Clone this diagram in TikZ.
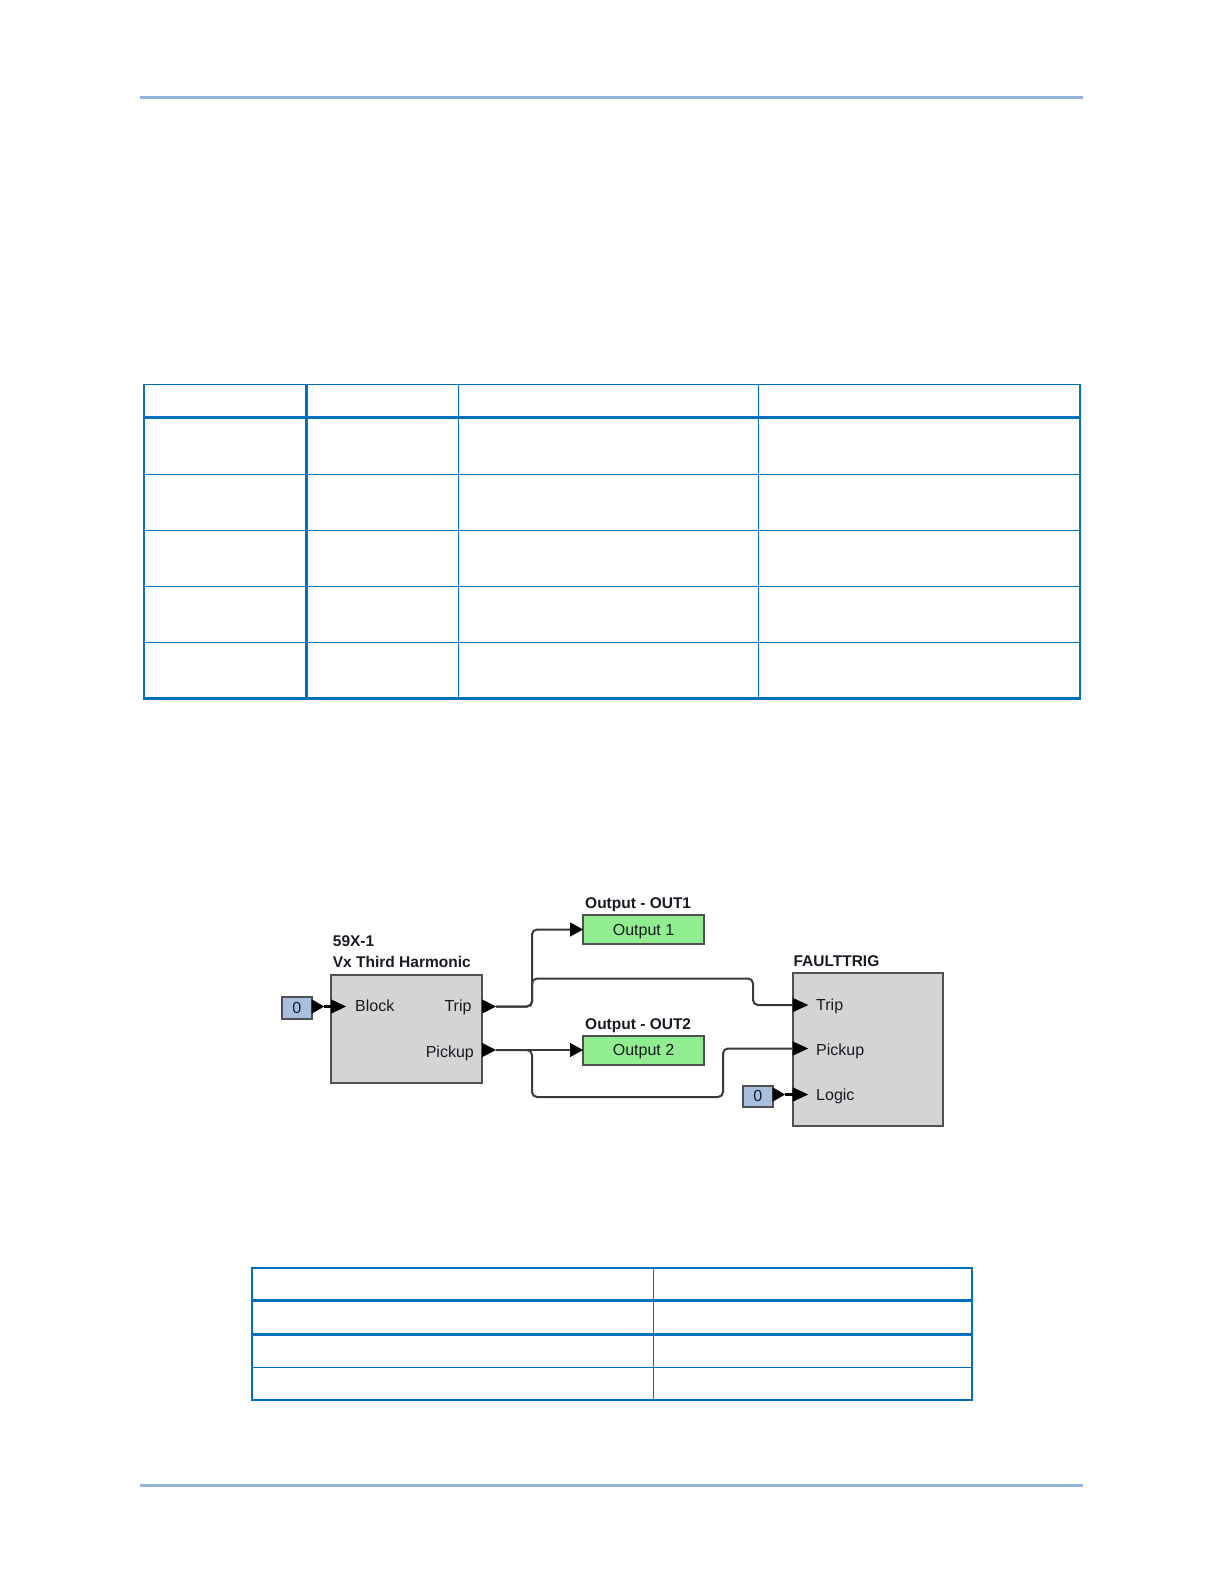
\documentclass[tikz,border=0pt]{standalone}
\usepackage{fontspec}
\setmainfont{Liberation Sans}
\usetikzlibrary{calc}
\definecolor{rulecol}{HTML}{95B3D7}
\definecolor{tabblue}{HTML}{0070C0}
\definecolor{wirecol}{HTML}{3A3A3A}
\definecolor{boxedge}{HTML}{505050}
\definecolor{blkfill}{HTML}{D4D4D4}
\definecolor{outfill}{HTML}{90EE90}
\definecolor{constfill}{HTML}{A8C0DF}
\definecolor{txt}{HTML}{1A1A24}
\newcommand\porttri[2]{\fill[port] (#1) -- ++(0,-7.2) -- ++(#2,7.2) -- ++(-#2,7.2) -- cycle;}
\begin{document}
\begin{tikzpicture}[x=1pt,y=-1pt,
  hdrrule/.style={draw=rulecol,line width=3pt},
  tabthin/.style={draw=tabblue,line width=1.5pt},
  tabmid/.style={draw=tabblue,line width=2pt},
  tabthick/.style={draw=tabblue,line width=3pt},
  blockbox/.style={draw=boxedge,fill=blkfill,line width=2pt,inner sep=0pt,outer sep=0pt,anchor=north west},
  outbox/.style={draw=boxedge,fill=outfill,line width=2pt,inner sep=0pt,outer sep=0pt,anchor=north west,minimum width=121pt,minimum height=29pt,font=\fontsize{16}{19}\selectfont,text=txt,text depth=0pt},
  constbox/.style={draw=boxedge,fill=constfill,line width=1.8pt,inner sep=0pt,outer sep=0pt,anchor=north west,minimum width=30pt,minimum height=21pt,font=\fontsize{16}{19}\selectfont,text=txt,text depth=0pt},
  portlbl/.style={inner sep=0pt,font=\fontsize{16}{19}\selectfont,text=txt},
  titlelbl/.style={inner sep=0pt,font=\fontsize{15.5}{18}\selectfont\bfseries,text=txt,anchor=base west},
  wire/.style={draw=wirecol,line width=2pt,rounded corners=5pt},
  stub/.style={draw=black,line width=3pt},
  port/.style={fill=black}
]
\fill[white] (0,0) rectangle (1224,1584);
\useasboundingbox (0,0) rectangle (1224,1584);

% header / footer rules
\draw[hdrrule] (140,98) -- (1083,98);
\draw[hdrrule] (140,1485) -- (1083,1485);

% table 1
\draw[tabthin] (143.4,384.5) -- (1080.5,384.5);
\draw[tabthick] (143.4,417.5) -- (1080.5,417.5);
\foreach \yy in {474.3,530.3,586.3,642.3} \draw[tabthin] (143.4,\yy) -- (1080.5,\yy);
\draw[tabthick] (143.4,698.5) -- (1080.5,698.5);
\draw[tabmid] (144.4,383.75) -- (144.4,700);
\draw[tabthick] (306.7,383.75) -- (306.7,700);
\draw[tabthin] (458.3,383.75) -- (458.3,700);
\draw[tabthin] (758.3,383.75) -- (758.3,700);
\draw[tabmid] (1079.5,383.75) -- (1079.5,700);

% table 2
\draw[tabmid] (250.5,1267.7) -- (972.5,1267.7);
\draw[tabthick] (250.5,1300.7) -- (972.5,1300.7);
\draw[tabthick] (250.5,1334) -- (972.5,1334);
\draw[tabthin] (250.5,1367.3) -- (972.5,1367.3);
\draw[tabmid] (250.5,1400.3) -- (972.5,1400.3);
\draw[tabmid] (251.5,1266.7) -- (251.5,1401.3);
\draw[tabthin] (653.4,1266.7) -- (653.4,1401.3);
\draw[tabmid] (971.5,1266.7) -- (971.5,1401.3);

% ---------- diagram ----------
% block 59X-1
\node[blockbox,minimum width=151pt,minimum height=108pt] (b59) at (331,975.3) {};
\node[titlelbl] (lab59a) at (332.7,946.7) {59X-1};
\node[titlelbl] (lab59b) at (332.7,967.3) {Vx Third Harmonic};
\coordinate (b59in) at (331,1006.5);
\coordinate (b59trip) at (482,1006.5);
\coordinate (b59pick) at (482,1050);
\node[portlbl,anchor=base west] (tblock) at (355,1011.7) {Block};
\node[portlbl,anchor=base east] (ttrip) at (471.7,1011.7) {Trip};
\node[portlbl,anchor=base east] (tpick) at (474,1057) {Pickup};
\porttri{b59in}{15}
\porttri{b59trip}{14}
\porttri{b59pick}{14}
\coordinate (b59tripout) at (496,1006.5);
\coordinate (b59pickout) at (496,1050);

% constant 0 for Block
\node[constbox,minimum height=22pt] (c0a) at (281.7,997) {0};
\coordinate (c0aout) at (c0a.east |- b59in);
\porttri{c0aout}{12.5}
\draw[stub] ($(c0aout)+(12,0)$) -- (b59in);

% outputs
\node[outbox] (o1) at (583,915) {Output 1};
\node[titlelbl] (labo1) at (585,908.3) {Output - OUT1};
\coordinate (o1in) at ($(o1.west)+(-13,0)$);
\porttri{o1in}{13}
\node[outbox] (o2) at (583,1035.5) {Output 2};
\node[titlelbl] (labo2) at (585,1029) {Output - OUT2};
\coordinate (o2in) at ($(o2.west)+(-13,0)$);
\porttri{o2in}{13}

% FAULTTRIG
\node[blockbox,minimum width=150pt,minimum height=153.3pt] (ft) at (792.7,972.7) {};
\node[titlelbl] (labft) at (793.3,966) {FAULTTRIG};
\coordinate (fttrip) at (792.7,1005);
\coordinate (ftpick) at (792.7,1048.5);
\coordinate (ftlogic) at (792.7,1094.5);
\porttri{fttrip}{15.5}
\porttri{ftpick}{15.5}
\porttri{ftlogic}{15.5}
\node[portlbl,anchor=base west] (fttript) at (816,1010.7) {Trip};
\node[portlbl,anchor=base west] (ftpickt) at (816,1055) {Pickup};
\node[portlbl,anchor=base west] (ftlogt) at (816,1100.7) {Logic};
\node[constbox,minimum height=20.7pt] (c0b) at (742.7,1086) {0};
\coordinate (c0bout) at (c0b.east |- ftlogic);
\porttri{c0bout}{12.3}
\draw[stub] ($(c0bout)+(12,0)$) -- (ftlogic);

% wires
\coordinate (jt) at (532,1006.5);
\coordinate (jp) at (532,1050);
\draw[wire] (b59tripout) -- (jt) -- (532,929.5) -- (o1in);
\draw[wire] (b59tripout) -- (jt) -- (532,978.5) -- (753,978.5) -- (753,1005) -- (fttrip);
\draw[wire] (b59pickout) -- (o2in);
\draw[wire] (b59pickout) -- (jp) -- (532,1097) -- (723,1097) -- (723,1048.5) -- (ftpick);
\end{tikzpicture}
\end{document}
